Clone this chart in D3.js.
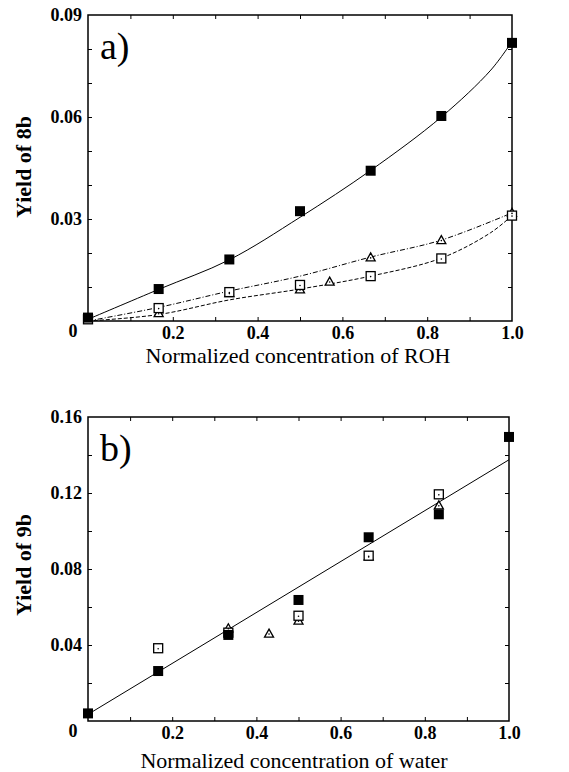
<!DOCTYPE html>
<html>
<head>
<meta charset="utf-8">
<script src="https://cdn.jsdelivr.net/npm/d3@7"></script>
<style>
  body { margin: 0; background: #fff; }
  .frame { fill: none; stroke: #000; stroke-width: 1.5; }
  .tick line { stroke: #000; stroke-width: 1; }
  .domain { display: none; }
  .lbl text { font-size: 18px; font-weight: bold; fill: #000; }
</style>
</head>
<body>
<div id="chart-container"></div>
<script>
// ---- data ----
const xTickVals = [0.2, 0.4, 0.6, 0.8, 1.0];
const xTickLabels = ["0.2", "0.4", "0.6", "0.8", "1.0"];

// panel a) yield of 8b vs ROH
const yTicksA = [0.03, 0.06, 0.09];
const yTickLabelsA = ["0.03", "0.06", "0.09"];
const filledA = [[0, 0.001], [1/6, 0.0094], [1/3, 0.0181], [0.5, 0.0323], [2/3, 0.0442], [5/6, 0.0603], [1, 0.0818]];
const squaresA = [[0, 0.0005], [1/6, 0.0038], [1/3, 0.0085], [0.5, 0.0106], [2/3, 0.0132], [5/6, 0.0184], [1, 0.031]];
const trianglesA = [[1/6, 0.0023], [1/3, 0.0082], [0.5, 0.0093], [0.57, 0.0116], [2/3, 0.0187], [5/6, 0.0238], [1, 0.0318]];
const fitSolidA = [[0, 0.0005], [1/6, 0.0093], [1/3, 0.018], [0.5, 0.0305], [2/3, 0.0443], [5/6, 0.06], [0.95, 0.0738], [1, 0.0822]];
const fitDashDotA = [[0, 0], [1/6, 0.004], [1/3, 0.0088], [0.5, 0.0132], [2/3, 0.0188], [5/6, 0.0238], [1, 0.0318]];
const fitDashA = [[0, 0], [1/6, 0.0019], [1/3, 0.0062], [0.5, 0.0094], [2/3, 0.0132], [5/6, 0.0185], [0.95, 0.026], [1, 0.031]];

// panel b) yield of 9b vs water
const yTicksB = [0.04, 0.08, 0.12, 0.16];
const yTickLabelsB = ["0.04", "0.08", "0.12", "0.16"];
const filledB = [[0, 0.004], [1/6, 0.0263], [1/3, 0.0453], [0.5, 0.0637], [2/3, 0.0967], [5/6, 0.1088], [1, 0.1495]];
const squaresB = [[1/6, 0.0383], [1/3, 0.0465], [0.5, 0.0554], [2/3, 0.087], [5/6, 0.1193]];
const trianglesB = [[1/3, 0.0488], [0.43, 0.046], [0.5, 0.0528], [2/3, 0.0866], [5/6, 0.1135]];
const fitB = [[0, 0.0035], [1, 0.1375]];

const svg = d3.select("#chart-container").append("svg")
  .attr("width", 569)
  .attr("height", 772);

svg.append("rect").attr("width", 569).attr("height", 772).attr("fill", "#fff");

function drawPanel(p) {
  let x = d3.scaleLinear().domain([0, 1]).range([p.left, p.right]);
  let y = d3.scaleLinear().domain([0, p.ymax]).range([p.bottom, p.top]);
  let g = svg.append("g");

  // minor ticks, inward on all four sides
  let xMinor = d3.range(0.1, 1.0, 0.1);
  let yMinor = d3.range(p.ystep, p.ymax - 1e-9, p.ystep);
  g.append("g").attr("transform", "translate(0," + p.bottom + ")")
    .call(d3.axisBottom(x).tickValues(xMinor).tickSize(-4).tickFormat(""));
  g.append("g").attr("transform", "translate(0," + p.top + ")")
    .call(d3.axisTop(x).tickValues(xMinor).tickSize(-4).tickFormat(""));
  g.append("g").attr("transform", "translate(" + p.left + ",0)")
    .call(d3.axisLeft(y).tickValues(yMinor).tickSize(-4).tickFormat(""));
  g.append("g").attr("transform", "translate(" + p.right + ",0)")
    .call(d3.axisRight(y).tickValues(yMinor).tickSize(-4).tickFormat(""));

  // tick labels
  g.append("g").attr("class", "lbl").attr("transform", "translate(0," + p.bottom + ")")
    .call(d3.axisBottom(x).tickValues(xTickVals).tickSize(0).tickPadding(5)
      .tickFormat((d, i) => xTickLabels[i]));
  g.append("g").attr("class", "lbl").attr("transform", "translate(" + p.left + ",0)")
    .call(d3.axisLeft(y).tickValues(p.yTicks).tickSize(0).tickPadding(6)
      .tickFormat((d, i) => p.yTickLabels[i]));
  g.append("text")
    .attr("x", p.left - 15).attr("y", p.bottom + 16)
    .attr("text-anchor", "middle")
    .attr("font-size", 18).attr("font-weight", "bold")
    .text("0");

  g.append("rect").attr("class", "frame")
    .attr("x", p.left).attr("y", p.top)
    .attr("width", p.right - p.left).attr("height", p.bottom - p.top);

  // fitted curves
  p.fits.forEach(f => {
    let line = d3.line().x(d => x(d[0])).y(d => y(d[1])).curve(d3.curveCatmullRom);
    g.append("path").datum(f.data)
      .attr("d", line)
      .attr("fill", "none").attr("stroke", "#000").attr("stroke-width", 1)
      .attr("stroke-dasharray", f.dash);
  });

  // markers
  g.selectAll(null).data(p.triangles).enter().append("path")
    .attr("transform", d => "translate(" + x(d[0]) + "," + y(d[1]) + ")")
    .attr("d", "M0,-4.5L4.5,3.5L-4.5,3.5Z")
    .attr("fill", "#fff").attr("stroke", "#000").attr("stroke-width", 1.3);
  g.selectAll(null).data(p.squares).enter().append("rect")
    .attr("x", d => x(d[0]) - 4.5).attr("y", d => y(d[1]) - 4.5)
    .attr("width", 9).attr("height", 9)
    .attr("fill", "#fff").attr("stroke", "#000").attr("stroke-width", 1.3);
  g.selectAll(null).data(p.squares.concat(p.triangles)).enter().append("circle")
    .attr("cx", d => x(d[0])).attr("cy", d => y(d[1]) + 0.5)
    .attr("r", 0.8).attr("fill", "#000");
  g.selectAll(null).data(p.filled).enter().append("rect")
    .attr("x", d => x(d[0]) - 5).attr("y", d => y(d[1]) - 5)
    .attr("width", 10).attr("height", 10)
    .attr("fill", "#000");

  // panel letter and axis titles
  g.append("text")
    .attr("x", p.left + 12).attr("y", p.top + 44)
    .attr("font-size", 38)
    .text(p.letter);
  g.append("text")
    .attr("x", p.xTitleX).attr("y", p.xTitleY)
    .attr("text-anchor", "middle")
    .attr("font-size", 22)
    .text(p.xTitle);
  g.append("text")
    .attr("transform", "translate(31," + p.yTitleY + ") rotate(-90)")
    .attr("text-anchor", "middle")
    .attr("font-size", 22).attr("font-weight", "bold")
    .text(p.yTitle);
}

drawPanel({
  left: 88, right: 512, top: 15, bottom: 321,
  ymax: 0.09, ystep: 0.01,
  yTicks: yTicksA, yTickLabels: yTickLabelsA,
  filled: filledA, squares: squaresA, triangles: trianglesA,
  fits: [
    { data: fitSolidA, dash: null },
    { data: fitDashDotA, dash: "5,2,1,2" },
    { data: fitDashA, dash: "4,2" }
  ],
  letter: "a)",
  xTitle: "Normalized concentration of ROH", xTitleX: 298, xTitleY: 363,
  yTitle: "Yield of 8b", yTitleY: 167
});

drawPanel({
  left: 88, right: 509, top: 417, bottom: 721,
  ymax: 0.16, ystep: 0.02,
  yTicks: yTicksB, yTickLabels: yTickLabelsB,
  filled: filledB, squares: squaresB, triangles: trianglesB,
  fits: [
    { data: fitB, dash: null }
  ],
  letter: "b)",
  xTitle: "Normalized concentration of water", xTitleX: 294, xTitleY: 768,
  yTitle: "Yield of 9b", yTitleY: 565
});

// serif face for every label
svg.selectAll("text").style("font-family", "'Liberation Serif', cursive");
</script>
</body>
</html>
